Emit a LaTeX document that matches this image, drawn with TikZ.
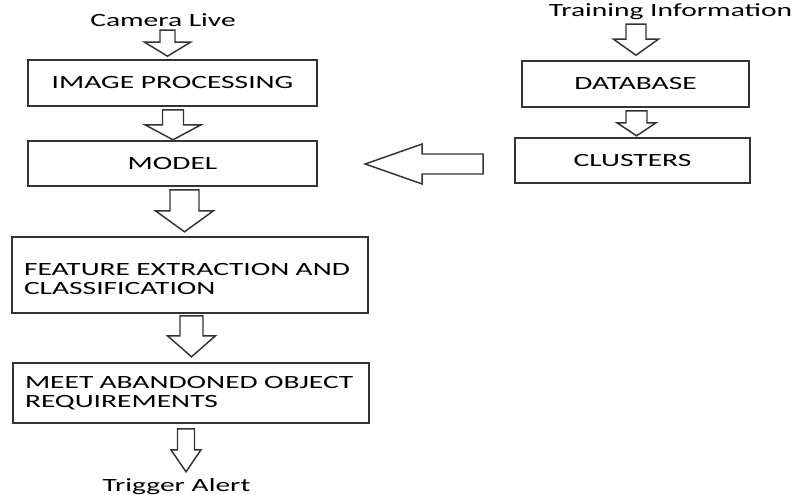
\documentclass[tikz,border=0pt]{standalone}
\usepackage{fontspec}
\setmainfont{Carlito}[FakeStretch=1.58]
\usetikzlibrary{calc}
\definecolor{linegray}{RGB}{51,51,51}
% hollow block arrows: top/tail point, shaft half width, head half width, length, head length
\newcommand{\downblock}[5]{\draw[blockline] ($(#1)+(-#2,0)$) -- ++(0,#4-#5) -- ++(-#3+#2,0) -- ++(#3,#5) -- ++(#3,-#5) -- ++(-#3+#2,0) -- ++(0,-#4+#5) -- cycle ;}
\newcommand{\leftblock}[5]{\draw[blockline] ($(#1)+(0,-#2)$) -- ++(-#4+#5,0) -- ++(0,-#3+#2) -- ++(-#5,#3) -- ++(#5,#3) -- ++(0,-#3+#2) -- ++(#4-#5,0) -- cycle ;}
\newcommand{\lowline}[1]{\raisebox{-3pt}[\height][\depth]{#1}}

\begin{document}
\begin{tikzpicture}[x=0.75pt,y=0.75pt,yscale=-1,xscale=1,
  box/.style={draw=linegray,line width=1.2pt,inner sep=0pt,font=\fontsize{14}{14.5}\selectfont},
  lbl/.style={inner sep=0.75pt,font=\fontsize{14}{14.5}\selectfont},
  blockline/.style={draw=linegray,line width=1.1pt,fill=white}
]
\useasboundingbox (0,0) rectangle (796,495);

% Text Node
\node[lbl,anchor=base] (cam) at (163,27) {Camera Live};
% Text Node
\node[lbl,anchor=base] (train) at (670.5,17) {Training Information};
% Text Node
\node[lbl,anchor=base] (alert) at (176.5,491) {Trigger Alert};

%Shape: Rectangle [left column]
\node[box,minimum width=216.75pt,minimum height=34.5pt] (ip) at (172.5,83) {IMAGE PROCESSING};
\node[box,minimum width=216.75pt,minimum height=33.75pt] (model) at (172.5,163.5) {MODEL};
\node[box,minimum width=267pt,minimum height=57pt,text width=249pt,inner xsep=9pt,align=left] (fe) at (190,275) {\lowline{FEATURE EXTRACTION AND}\\\lowline{CLASSIFICATION}};
\node[box,minimum width=267pt,minimum height=45pt,text width=249pt,inner xsep=9pt,align=left] (mao) at (191,393) {MEET ABANDONED OBJECT\\REQUIREMENTS};

%Shape: Rectangle [right column]
\node[box,minimum width=170.25pt,minimum height=34.5pt] (db) at (635.5,84) {DATABASE};
\node[box,minimum width=176.25pt,minimum height=33.75pt] (clu) at (632.5,160.5) {CLUSTERS};

%Shape: Block Arrows
\coordinate (a1) at ($(ip.north)+(-5,-29)$);
\coordinate (a2) at ($(ip.south)+(0.5,3)$);
\coordinate (a3) at ($(model.south)+(12,3)$);
\coordinate (a4) at ($(fe.south)+(1.5,2)$);
\coordinate (a5) at ($(mao.south)+(-5,5)$);
\coordinate (a6) at ($(db.north)+(0.5,-36)$);
\coordinate (a7) at ($(db.south)+(1,3)$);
\coordinate (a8) at ($(clu.west)+(-31,3.5)$);
\downblock{a1}{7.5}{23}{26}{14}
\downblock{a2}{10.5}{28}{30}{15}
\downblock{a3}{14.5}{29}{42}{21}
\downblock{a4}{11.5}{24}{41}{21}
\downblock{a5}{8.5}{15}{43}{22}
\downblock{a6}{10}{22.5}{31}{16}
\downblock{a7}{10.5}{19.5}{25}{13}
\leftblock{a8}{10}{20}{118}{57}

\end{tikzpicture}
\end{document}
